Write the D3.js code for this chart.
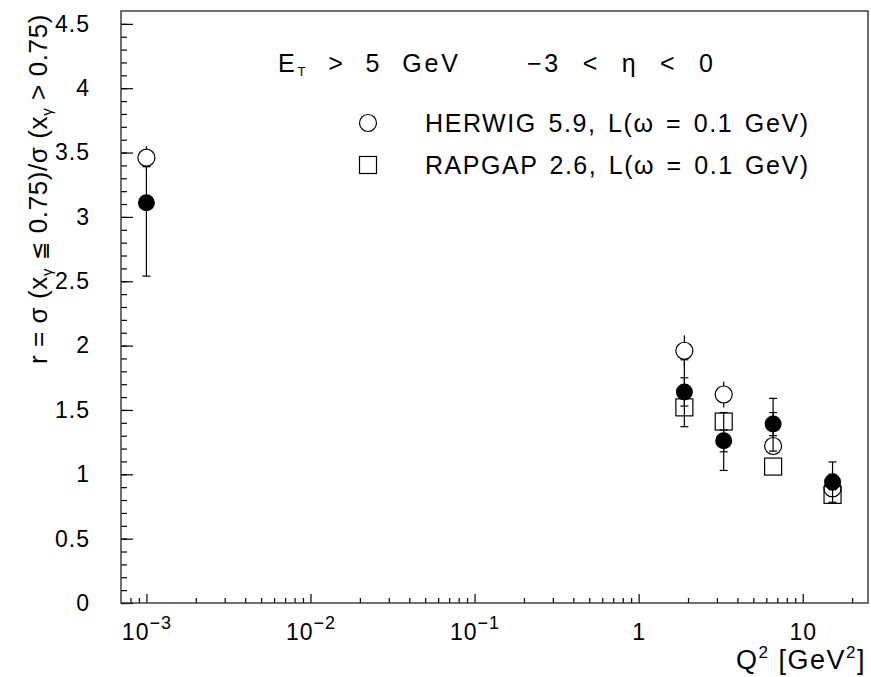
<!DOCTYPE html>
<html>
<head>
<meta charset="utf-8">
<script src="https://cdn.jsdelivr.net/npm/d3@7"></script>
<style>
  body { margin: 0; background: white; }
  svg { display: block; font-family: "Liberation Sans", Arial, sans-serif; }
</style>
</head>
<body>
<div id="chart"></div>
<script>
// measured data, Q2 in GeV^2
var dataQ2 = [0.001, 1.9, 3.3, 6.6, 15.2];
var dataR = [3.11, 1.64, 1.26, 1.39, 0.94];
var dataStat = [0.05, 0.11, 0.085, 0.09, 0.06];
var dataErrUp = [0.28, 0.25, 0.22, 0.20, 0.156];
var dataErrDown = [0.57, 0.27, 0.23, 0.21, 0.157];

var herwigQ2 = [0.001, 1.9, 3.3, 6.6, 15.2];
var herwigR = [3.46, 1.96, 1.62, 1.22, 0.89];
var herwigErr = [0.09, 0.12, 0.10, 0.03, 0.03];

var rapgapQ2 = [1.9, 3.3, 6.6, 15.2];
var rapgapR = [1.52, 1.41, 1.06, 0.84];
var rapgapErr = [0.03, 0.03, 0.03, 0.03];

var xMajor = [1e-3, 1e-2, 1e-1, 1, 10];
var xMajorLabels = [["10", "\u22123"], ["10", "\u22122"], ["10", "\u22121"], ["1", ""], ["10", ""]];
var yMajor = [0, 0.5, 1, 1.5, 2, 2.5, 3, 3.5, 4, 4.5];

var width = 871, height = 677;
var plotLeft = 121, plotRight = 868, plotTop = 11, plotBottom = 603;
var markR = 8.5;

var svg = d3.select("#chart").append("svg")
  .attr("width", width).attr("height", height);

var x = d3.scaleLog().domain([7e-4, 25]).range([plotLeft, plotRight]);
var y = d3.scaleLinear().domain([0, 4.6]).range([plotBottom, plotTop]);

// minor ticks
var xMinor = [];
xMajor.concat([1e-4]).forEach(function (d) {
  for (var k = 2; k <= 9; k++) {
    var v = d * k;
    if (v > 7e-4 && v < 25) xMinor.push(v);
  }
});
var yMinor = d3.range(0, 46).map(function (i) { return i / 10; });

svg.append("g")
  .attr("transform", "translate(0," + plotBottom + ")")
  .call(d3.axisBottom(x).tickValues(xMinor).tickSize(-5).tickFormat(""))
  .call(function (g) { g.select(".domain").remove(); });

svg.append("g")
  .attr("transform", "translate(" + plotLeft + ",0)")
  .call(d3.axisLeft(y).tickValues(yMinor).tickSize(-6).tickFormat(""))
  .call(function (g) { g.select(".domain").remove(); });

var xAxis = svg.append("g")
  .attr("transform", "translate(0," + plotBottom + ")")
  .call(d3.axisBottom(x).tickValues(xMajor).tickSize(-9).tickFormat(""));
xAxis.select(".domain").remove();

xAxis.selectAll(".tick").append("text")
  .attr("fill", "black")
  .attr("y", 37)
  .attr("text-anchor", "middle")
  .style("font-size", "23px")
  .style("letter-spacing", "1px")
  .each(function (d, i) {
    var t = d3.select(this);
    var lab = xMajorLabels[i];
    t.append("tspan").text(lab[0]);
    if (lab[1]) t.append("tspan").attr("dy", -11).style("font-size", "18px").text(lab[1]);
  });

var yAxis = svg.append("g")
  .attr("transform", "translate(" + plotLeft + ",0)")
  .call(d3.axisLeft(y).tickValues(yMajor).tickSize(-12).tickPadding(31).tickFormat(d3.format("")));
yAxis.select(".domain").remove();
yAxis.selectAll("text").style("font-size", "23px").style("letter-spacing", "1px").attr("fill", "black");

svg.selectAll(".tick line").attr("stroke", "black").attr("stroke-width", 1.2);

// frame
svg.append("rect")
  .attr("x", plotLeft).attr("y", plotTop)
  .attr("width", plotRight - plotLeft).attr("height", plotBottom - plotTop)
  .attr("fill", "none").attr("stroke", "#333").attr("stroke-width", 1.4);

// error bars (data: full bar with caps)
function errorBars(xs, rs, up, down) {
  var g = svg.append("g").attr("stroke", "black").attr("stroke-width", 1.2);
  xs.forEach(function (q, i) {
    var cx = x(q);
    g.append("line").attr("x1", cx).attr("x2", cx)
      .attr("y1", y(rs[i] + up[i])).attr("y2", y(rs[i] - down[i]));
    [rs[i] + up[i], rs[i] - down[i]].forEach(function (v) {
      g.append("line").attr("x1", cx - 4).attr("x2", cx + 4)
        .attr("y1", y(v)).attr("y2", y(v));
    });
  });
}

// MC error bars: only the part outside the marker is drawn
function mcErrorBars(xs, rs, err) {
  var g = svg.append("g").attr("stroke", "black").attr("stroke-width", 1.2);
  xs.forEach(function (q, i) {
    var cx = x(q), cy = y(rs[i]);
    var yTop = y(rs[i] + err[i]), yBot = y(rs[i] - err[i]);
    if (cy - yTop > markR) {
      g.append("line").attr("x1", cx).attr("x2", cx).attr("y1", yTop).attr("y2", cy - markR);
      g.append("line").attr("x1", cx).attr("x2", cx).attr("y1", cy + markR).attr("y2", yBot);
    }
  });
}

mcErrorBars(herwigQ2, herwigR, herwigErr);
mcErrorBars(rapgapQ2, rapgapR, rapgapErr);
errorBars(dataQ2, dataR, dataErrUp, dataErrDown);
errorBars(dataQ2, dataR, dataStat, dataStat);

// markers
svg.append("g").selectAll("circle")
  .data(herwigQ2).enter().append("circle")
  .attr("cx", function (d) { return x(d); })
  .attr("cy", function (d, i) { return y(herwigR[i]); })
  .attr("r", markR)
  .attr("fill", "none").attr("stroke", "black").attr("stroke-width", 1.2);

svg.append("g").selectAll("rect")
  .data(rapgapQ2).enter().append("rect")
  .attr("x", function (d) { return x(d) - markR; })
  .attr("y", function (d, i) { return y(rapgapR[i]) - markR; })
  .attr("width", 2 * markR).attr("height", 2 * markR)
  .attr("fill", "none").attr("stroke", "black").attr("stroke-width", 1.2);

svg.append("g").selectAll("circle")
  .data(dataQ2).enter().append("circle")
  .attr("cx", function (d) { return x(d); })
  .attr("cy", function (d, i) { return y(dataR[i]); })
  .attr("r", markR)
  .attr("fill", "black");

// header texts
var t1 = svg.append("text").attr("x", 278).attr("y", 72).style("font-size", "25px")
  .style("word-spacing", "10px")
  .attr("textLength", 180).attr("lengthAdjust", "spacing");
t1.append("tspan").text("E");
t1.append("tspan").attr("dy", 4).style("font-size", "13px").text("T");
t1.append("tspan").attr("dy", -4).text(" > 5 GeV");

svg.append("text").attr("x", 527).attr("y", 72).style("font-size", "25px")
  .style("word-spacing", "12px")
  .attr("textLength", 186).attr("lengthAdjust", "spacing")
  .text("\u22123 < \u03b7 < 0");

// legend
svg.append("circle").attr("cx", 368).attr("cy", 123).attr("r", markR)
  .attr("fill", "none").attr("stroke", "black").attr("stroke-width", 1.2);
svg.append("text").attr("x", 425).attr("y", 132).style("font-size", "25px")
  .style("word-spacing", "3px")
  .attr("textLength", 383).attr("lengthAdjust", "spacing")
  .text("HERWIG 5.9, L(\u03c9 = 0.1 GeV)");

svg.append("rect").attr("x", 368 - markR).attr("y", 165 - markR)
  .attr("width", 2 * markR).attr("height", 2 * markR)
  .attr("fill", "none").attr("stroke", "black").attr("stroke-width", 1.2);
svg.append("text").attr("x", 425).attr("y", 174).style("font-size", "25px")
  .style("word-spacing", "3px")
  .attr("textLength", 383).attr("lengthAdjust", "spacing")
  .text("RAPGAP 2.6, L(\u03c9 = 0.1 GeV)");

// axis titles
var xt = svg.append("text").attr("x", 866).attr("y", 669)
  .attr("text-anchor", "end").style("font-size", "27px").style("letter-spacing", "1.5px");
xt.append("tspan").text("Q");
xt.append("tspan").attr("dy", -11).style("font-size", "17px").text("2");
xt.append("tspan").attr("dy", 11).text(" [GeV");
xt.append("tspan").attr("dy", -11).style("font-size", "17px").text("2");
xt.append("tspan").attr("dy", 11).text("]");

var yt = svg.append("text")
  .attr("transform", "translate(47,14) rotate(-90)")
  .attr("text-anchor", "end").style("font-size", "26px").style("letter-spacing", "0.6px");
yt.append("tspan").text("r = \u03c3 (x");
yt.append("tspan").attr("dy", 5).style("font-size", "15px").text("\u03b3");
yt.append("tspan").attr("dy", -5).text(" ");
yt.append("tspan").style("font-family", "'DejaVu Sans', sans-serif").style("font-size", "22px").text("\u2266");
yt.append("tspan").text(" 0.75)/\u03c3 (x");
yt.append("tspan").attr("dy", 5).style("font-size", "15px").text("\u03b3");
yt.append("tspan").attr("dy", -5).text(" > 0.75)");
</script>
</body>
</html>
